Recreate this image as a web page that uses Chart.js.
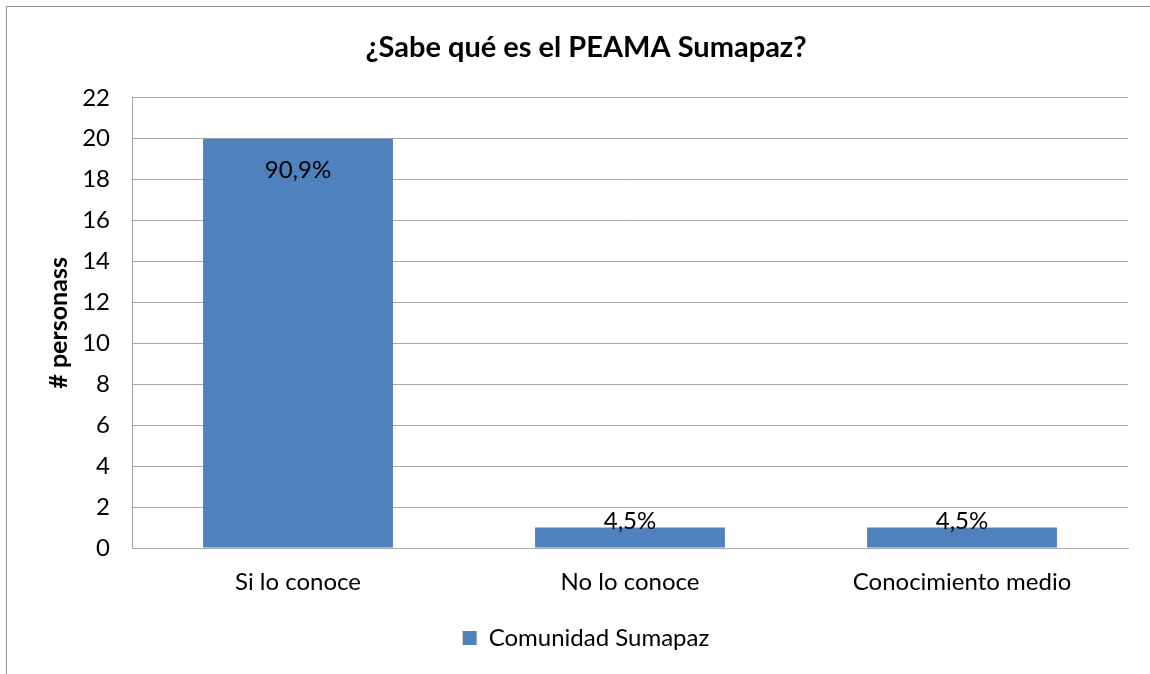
<!DOCTYPE html>
<html>
<head>
<meta charset="utf-8">
<script src="https://cdn.jsdelivr.net/npm/chart.js@4.4.0/dist/chart.umd.min.js"></script>
<style>
  html, body { margin: 0; padding: 0; background: #ffffff; }
  #wrap { width: 1150px; height: 674px; position: relative; }
</style>
</head>
<body>
<div id="wrap"><canvas id="c" width="1150" height="674"></canvas></div>
<script>
const categories = ['Si lo conoce', 'No lo conoce', 'Conocimiento medio'];
const values = [20, 1, 1];
const pctLabels = ['90,9%', '4,5%', '4,5%'];
const labelPlacement = ['inside', 'outside', 'outside'];
const yTicks = { min: 0, max: 22, step: 2 };
const seriesName = 'Comunidad Sumapaz';
const titleText = '¿Sabe qué es el PEAMA Sumapaz?';
const yTitle = '# personass';

const FONT = 'Lato, "Carlito", "Open Sans", sans-serif';
const BLUE = '#4F81BD';
const GRID = '#a6a6a6';

const frame = {
  id: 'frame',
  beforeDraw(chart) {
    const ctx = chart.ctx;
    ctx.save();
    ctx.fillStyle = '#fff';
    ctx.fillRect(0, 0, chart.width, chart.height);
    ctx.strokeStyle = '#8c8c8c';
    ctx.lineWidth = 1;
    ctx.beginPath();
    ctx.moveTo(6.5, 700);
    ctx.lineTo(6.5, 6.5);
    ctx.lineTo(1160, 6.5);
    ctx.stroke();
    ctx.restore();
  }
};

const dataLabels = {
  id: 'dataLabels',
  afterDatasetsDraw(chart) {
    const ctx = chart.ctx;
    const meta = chart.getDatasetMeta(0);
    ctx.save();
    ctx.font = '24px ' + FONT;
    ctx.fillStyle = '#000';
    ctx.textAlign = 'center';
    ctx.textBaseline = 'middle';
    meta.data.forEach((bar, i) => {
      const y = labelPlacement[i] === 'inside' ? bar.y + 32 : bar.y - 6;
      ctx.fillText(pctLabels[i], bar.x, y);
    });
    ctx.restore();
  }
};

new Chart(document.getElementById('c'), {
  type: 'bar',
  data: {
    labels: categories,
    datasets: [{
      label: seriesName,
      data: values,
      backgroundColor: BLUE,
      borderWidth: 0,
      barPercentage: 0.572,
      categoryPercentage: 1.0
    }]
  },
  options: {
    responsive: false,
    animation: false,
    devicePixelRatio: 1,
    layout: { padding: { left: 44, right: 22, top: 0, bottom: 14 } },
    plugins: {
      title: {
        display: true,
        text: titleText,
        color: '#000',
        font: { family: FONT, size: 29, weight: 'bold' },
        padding: { top: 30, bottom: 33 }
      },
      legend: {
        display: true,
        position: 'bottom',
        labels: {
          color: '#000',
          font: { family: FONT, size: 24 },
          boxWidth: 14,
          boxHeight: 14,
          padding: 10,
          useBorderRadius: false
        }
      },
      tooltip: { enabled: false }
    },
    scales: {
      x: {
        grid: { display: false, drawTicks: false },
        border: { display: true, color: GRID, width: 1 },
        ticks: { color: '#000', font: { family: FONT, size: 24 }, padding: 20 },
        afterFit(scale) { scale.height = 68; }
      },
      y: {
        min: yTicks.min,
        max: yTicks.max,
        ticks: { stepSize: yTicks.step, color: '#000', font: { family: FONT, size: 24 }, padding: 22 },
        grid: { color: GRID, lineWidth: 1, drawTicks: false },
        border: { display: true, color: GRID, width: 1 },
        title: {
          display: true,
          text: yTitle,
          color: '#000',
          font: { family: FONT, size: 25, weight: 'bold' },
          padding: { top: 0, bottom: 0 }
        },
        afterFit(scale) { scale.width = 88; }
      }
    }
  },
  plugins: [frame, dataLabels]
});
</script>
</body>
</html>
